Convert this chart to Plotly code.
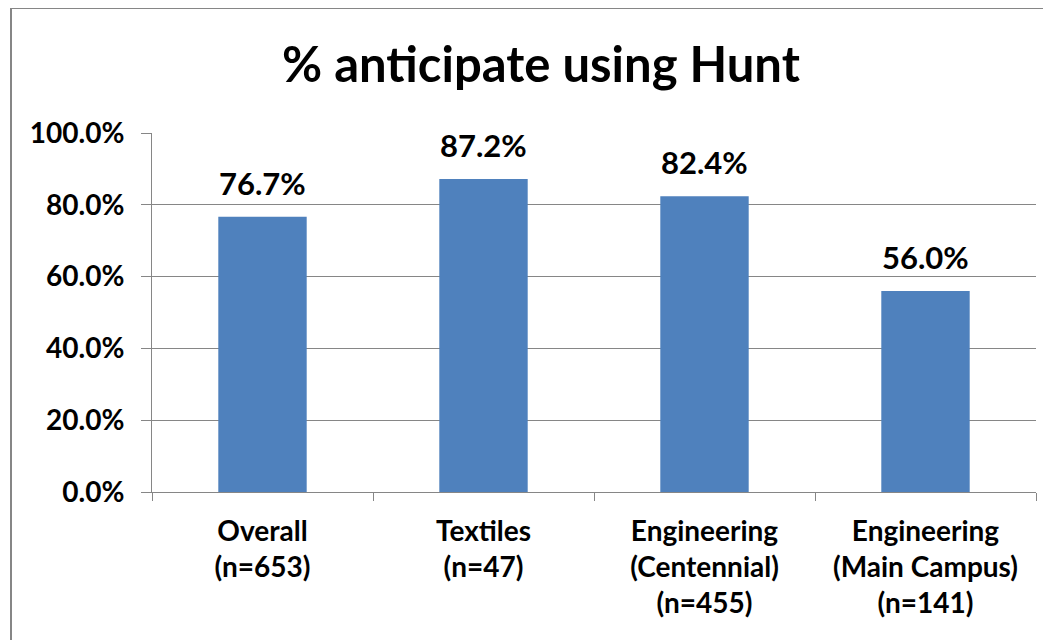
import plotly.graph_objects as go

categories = ["Overall<br>(n=653)", "Textiles<br>(n=47)",
              "Engineering<br>(Centennial)<br>(n=455)",
              "Engineering<br>(Main Campus)<br>(n=141)"]
values = [76.7, 87.2, 82.4, 56.0]
labels = ["76.7%", "87.2%", "82.4%", "56.0%"]
yticks = [0, 20, 40, 60, 80, 100]
yticklabels = ["0.0%", "20.0%", "40.0%", "60.0%", "80.0%", "100.0%"]

font = "Lato"
grey = "#868686"

fig = go.Figure()
fig.add_trace(go.Bar(x=categories, y=values, marker=dict(color="#4F81BD", line=dict(width=0)),
                     width=0.4, hoverinfo="skip"))

for c, v, t in zip(categories, values, labels):
    fig.add_annotation(x=c, y=v, text="<b>%s</b>" % t, showarrow=False,
                       yanchor="bottom", yshift=13,
                       font=dict(family=font, size=31, color="black"))

# outer chart border (Excel style), runs off the right and bottom edges
fig.add_shape(type="rect", xref="paper", yref="paper",
              x0=-0.1595, x1=1.2, y0=1.348, y1=-0.6,
              line=dict(color=grey, width=2), layer="below")

# page body has an 8px margin, so the figure is a bit smaller than the window
fig.update_layout(
    width=1043, height=632,
    margin=dict(l=144, r=15, t=125, b=148),
    paper_bgcolor="white", plot_bgcolor="white",
    showlegend=False,
    title=dict(text="<b>% anticipate using Hunt</b>", x=533 / 1043, xanchor="center",
               y=1 - 57 / 632, yanchor="middle",
               font=dict(family=font, size=49, color="black")),
    bargap=0.6,
)
fig.update_xaxes(showline=True, linecolor=grey, linewidth=1, automargin=False,
                 ticks="outside", ticklen=8, tickcolor=grey, tickson="boundaries",
                 tickfont=dict(family=font, size=28, color="black"),
                 tickprefix="<b>", ticksuffix="</b>", ticklabelstandoff=14)
fig.update_yaxes(range=[0, 100], tickvals=yticks, ticktext=["<b>%s</b>" % t for t in yticklabels],
                 showline=True, linecolor=grey, linewidth=1, automargin=False,
                 showgrid=True, gridcolor=grey, gridwidth=1,
                 ticks="outside", ticklen=10, tickcolor=grey,
                 tickfont=dict(family=font, size=28, color="black"),
                 ticklabelstandoff=11, zeroline=False)

fig.write_html("out.html")
